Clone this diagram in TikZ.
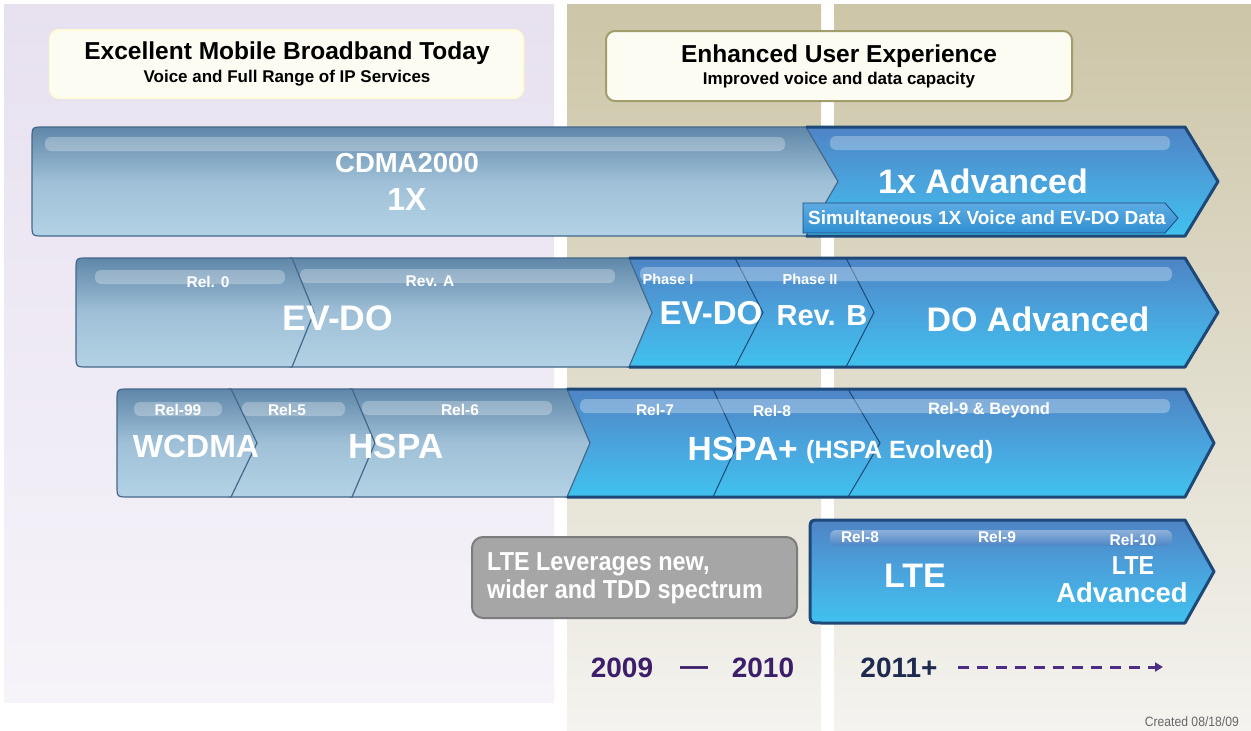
\documentclass[tikz,border=0pt]{standalone}
\usepackage{fontspec}
\setmainfont{Liberation Sans}
\newfontfamily\semi[FakeStretch=0.9]{Liberation Sans}
\usetikzlibrary{arrows.meta}

\definecolor{lavTop}{HTML}{E7E1F0}
\definecolor{lavBot}{HTML}{F6F3F9}
\definecolor{tanTop}{HTML}{CCC5A7}
\definecolor{tanMid}{HTML}{D4CEB6}
\definecolor{tanBot}{HTML}{F4F3EF}
\definecolor{cream}{HTML}{FDFCF2}
\definecolor{creamEdge}{HTML}{A39C6B}
\definecolor{lightTop}{HTML}{5F87A9}
\definecolor{lightMid}{HTML}{9FC0D7}
\definecolor{lightBot}{HTML}{B3D2E5}
\definecolor{lightEdge}{HTML}{45688A}
\definecolor{brightTop}{HTML}{4E84C5}
\definecolor{brightMid}{HTML}{4AA3DC}
\definecolor{brightBot}{HTML}{40C2EE}
\definecolor{subTop}{HTML}{5DACE2}
\definecolor{subBot}{HTML}{2F8FD2}
\definecolor{navy}{HTML}{1D4877}
\definecolor{greyFill}{HTML}{A6A6A6}
\definecolor{greyEdge}{HTML}{7C7C7C}
\definecolor{yearPurple}{HTML}{3D1E6A}
\definecolor{yearNavy}{HTML}{1F2A50}
\definecolor{dashPurple}{HTML}{4E2D86}

% bar with rounded left end and a pointed right end
\def\barshape#1#2#3#4#5{(#1+12,#4) -- (#2,#4) -- (#3,{(#4+#5)/2}) -- (#2,#5) -- (#1+12,#5) .. controls (#1,#5) .. (#1,#5-12) -- (#1,#4+12) .. controls (#1,#4) .. (#1+12,#4) -- cycle}
% follow-on segment with a straight (hidden) left edge and a pointed right end
\def\segshape#1#2#3#4#5{(#1,#4) -- (#2,#4) -- (#3,{(#4+#5)/2}) -- (#2,#5) -- (#1,#5) -- cycle}
% outer border of the bright part of a bar
\def\brightrim#1#2#3#4#5{(#1,#4) -- (#2,#4) -- (#3,{(#4+#5)/2}) -- (#2,#5) -- (#1,#5)}

\tikzset{
  lightseg/.style={top color=lightTop, bottom color=lightBot, middle color=lightMid, draw=lightEdge, line width=1.2pt},
  brightseg/.style={top color=brightTop, bottom color=brightBot, middle color=brightMid, draw=navy, line width=1pt},
  rim/.style={draw=navy, line width=3pt, line join=round},
  lightstrip/.style={fill=white, fill opacity=0.28, rounded corners=6pt},
  brightstrip/.style={fill=white, fill opacity=0.30, rounded corners=6pt},
  big/.style={text=white, font=\bfseries\fontsize{32}{34}\selectfont, inner sep=0pt},
  rel/.style={text=white, font=\bfseries\fontsize{15.5}{17}\selectfont, inner sep=0pt},
  headbox/.style={fill=cream, rounded corners=9pt},
  headtitle/.style={font=\bfseries\fontsize{24.5}{26}\selectfont, inner sep=0pt},
  headsub/.style={font=\bfseries\fontsize{17}{19}\selectfont, inner sep=0pt},
  year/.style={font=\bfseries\fontsize{28}{30}\selectfont, inner sep=0pt},
}

\begin{document}
\begin{tikzpicture}[x=1pt,y=-1pt]
\useasboundingbox (0,0) rectangle (1251,731);
\fill[white] (0,0) rectangle (1251,731);

% period panels
\shade[top color=lavTop, bottom color=lavBot] (4,4) rectangle (554,702);
\shade[top color=tanTop, middle color=tanMid, bottom color=tanBot] (567,4) rectangle (821,731);
\shade[top color=tanTop, middle color=tanMid, bottom color=tanBot] (834,4) rectangle (1251,731);

% headline boxes
\path[headbox, draw=white!85!yellow, line width=2pt] (50,30) rectangle (523,98);
\node[headtitle] (t1) at (287,53) {Excellent Mobile Broadband Today};
\node[headsub] (s1) at (287,78) {Voice and Full Range of IP Services};
\path[headbox, draw=creamEdge, line width=2pt] (606,31) rectangle (1072,101);
\node[headtitle] (t2) at (839,56) {Enhanced User Experience};
\node[headsub] (s2) at (839,80) {Improved voice and data capacity};

% ---------- CDMA2000 row ----------
\path[brightseg] \segshape{804}{1185}{1218}{127}{236};
\path[lightstrip] (830,136) rectangle (1170,150);
\path[lightseg] \barshape{32}{806}{838}{127}{236};
\path[lightstrip] (45,137) rectangle (785,151);
\path[rim] \brightrim{806}{1185}{1218}{127}{236};
% sub-bar
\path[top color=subTop, bottom color=subBot, draw=navy, line width=0.8pt]
  (803,203) -- (1165,203) -- (1178,218) -- (1165,233) -- (803,233) -- cycle;
\node[big] (cdma) at (407,163) {\fontsize{27.5}{29}\selectfont CDMA2000};
\node[big] (onex) at (407,199) {1X};
\node[big] (adv1x) at (983,181) {\fontsize{34}{36}\selectfont 1x Advanced};
\node[rel] (simul) at (987,218) {\fontsize{19}{21}\selectfont Simultaneous 1X Voice and EV-DO Data};

% ---------- EV-DO row ----------
\path[brightseg] \segshape{844}{1185}{1218}{258}{367};
\path[brightseg] \segshape{733}{846}{874}{258}{367};
\path[brightseg] \segshape{627}{735}{763}{258}{367};
\path[brightstrip] (640,267) rectangle (1172,281);
\path[lightseg] \segshape{290}{629}{652}{258}{367};
\path[lightstrip] (300,269) rectangle (615,283);
\path[lightseg] \barshape{76}{292}{314}{258}{367};
\path[lightstrip] (95,270) rectangle (285,284);
\path[rim] \brightrim{629}{1185}{1218}{258}{367};
\node[rel] (rel0) at (208,282) {Rel. 0};
\node[rel] (reva) at (430,281) {Rev. A};
\node[big] (evdo) at (338,318) {\fontsize{35.5}{37}\selectfont EV-DO};
\node[rel] (ph1) at (668,279) {\fontsize{14.5}{16}\selectfont Phase I};
\node[rel] (ph2) at (810,279) {\fontsize{14.5}{16}\selectfont Phase II};
\node[big] (evdo2) at (711,313) {\fontsize{33}{35}\selectfont EV-DO};
\node[big] (revb) at (822,316) {\fontsize{29}{31}\selectfont Rev. B};
\node[big] (doadv) at (1038,319) {\fontsize{34}{36}\selectfont DO Advanced};

% ---------- WCDMA / HSPA row ----------
\path[brightseg] \segshape{846}{1185}{1214}{389}{497};
\path[brightseg] \segshape{711}{848}{880}{389}{497};
\path[brightseg] \segshape{565}{713}{738}{389}{497};
\path[brightstrip] (580,399) rectangle (1170,413);
\path[lightseg] \segshape{350}{567}{590}{389}{497};
\path[lightstrip] (362,401) rectangle (552,415);
\path[lightseg] \segshape{229}{352}{375}{389}{497};
\path[lightstrip] (242,402) rectangle (345,416);
\path[lightseg] \barshape{117}{231}{257}{389}{497};
\path[lightstrip] (134,402) rectangle (222,416);
\path[rim] \brightrim{567}{1185}{1214}{389}{497};
\node[rel] (r99) at (178,410) {Rel-99};
\node[rel] (r5) at (287,410) {Rel-5};
\node[rel] (r6) at (460,410) {Rel-6};
\node[big] (wcdma) at (196,446) {WCDMA};
\node[big] (hspa) at (396,446) {\fontsize{35}{37}\selectfont HSPA};
\node[rel] (r7) at (655,410) {Rel-7};
\node[rel] (r8) at (772,411) {Rel-8};
\node[rel] (r9) at (989,410) {\fontsize{16.5}{18}\selectfont Rel-9 \& Beyond};
\node[big, anchor=east] (hspap) at (798,449) {\fontsize{33.5}{35}\selectfont HSPA+};
\node[big, anchor=west] (hspaev) at (806,452) {\fontsize{25}{27}\selectfont (HSPA Evolved)};

% ---------- LTE row ----------
\path[brightseg] \barshape{810}{1185}{1214}{520}{623};
\path[rim] \barshape{810}{1185}{1214}{520}{623};
\path[top color=brightTop!60!white, bottom color=brightTop, rounded corners=6pt, opacity=0.9]
  (830,530) rectangle (1172,546);
\node[rel] (l8) at (860,537) {Rel-8};
\node[rel] (l9) at (997,537) {Rel-9};
\node[rel] (l10) at (1133,540) {Rel-10};
\node[big] (lte) at (915,576) {\fontsize{34}{36}\selectfont LTE};
\node[big] (ltea1) at (1133,566) {\semi\bfseries\fontsize{26}{27}\selectfont LTE};
\node[big] (ltea2) at (1122,593) {\fontsize{27.5}{29}\selectfont Advanced};

% spectrum note
\path[fill=greyFill, draw=greyEdge, line width=2pt, rounded corners=11pt] (472,537) rectangle (797,618);
\node[text=white, align=left, anchor=west, inner sep=0pt,
      font=\semi\bfseries\fontsize{26}{28}\selectfont] (note) at (487,578)
  {LTE Leverages new,\\wider and TDD spectrum};

% timeline
\node[year, text=yearPurple] (y09) at (622,668) {2009};
\node[year, text=yearPurple] (dash) at (694,671) {—};
\node[year, text=yearPurple] (y10) at (763,668) {2010};
\node[year, text=yearNavy] (y11) at (899,668) {2011+};
\coordinate (arrowStart) at (958,667);
\coordinate (arrowEnd) at (1163,667);
\draw[dashPurple, line width=3pt, dash pattern=on 11pt off 8pt,
      -{Triangle[length=8pt,width=9pt]}] (arrowStart) -- (arrowEnd);

\node[text=black!60, anchor=east, inner sep=0pt, font=\semi\fontsize{13.5}{15}\selectfont] (created) at (1239,722) {Created 08/18/09};
\end{tikzpicture}
\end{document}
